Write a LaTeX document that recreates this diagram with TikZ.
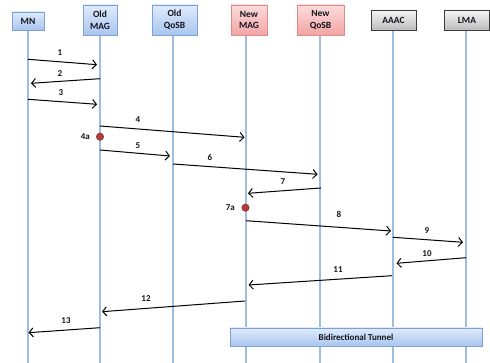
\documentclass[tikz,border=0pt]{standalone}
\usepackage{fontspec}
\setmainfont{Carlito}
\usetikzlibrary{arrows.meta,shadows}

\definecolor{lifeblue}{HTML}{9FBCE3}
\definecolor{bluetop}{HTML}{DFEBFB}
\definecolor{bluebot}{HTML}{A9C5EF}
\definecolor{blueedge}{HTML}{7EA1D3}
\definecolor{redtop}{HTML}{FCDCDC}
\definecolor{redbot}{HTML}{F2A4A4}
\definecolor{rededge}{HTML}{E08A8A}
\definecolor{graytop}{HTML}{F5F5F5}
\definecolor{graybot}{HTML}{BEBEBE}
\definecolor{grayedge}{HTML}{3C3C3C}
\definecolor{dotred}{HTML}{B03C3C}
\definecolor{dotedge}{HTML}{8A2A2A}
\definecolor{txt}{HTML}{14141E}

\tikzset{
  hdr/.style={rectangle, inner sep=0pt, align=center, text=txt,
    font=\fontsize{9.5}{11.5}\selectfont\bfseries,
    drop shadow={opacity=0.25, shadow xshift=0.8pt, shadow yshift=-0.8pt}},
  bluebox/.style={hdr, draw=blueedge, top color=bluetop, bottom color=bluebot},
  redbox/.style={hdr, draw=rededge, top color=redtop, bottom color=redbot},
  graybox/.style={hdr, draw=grayedge, top color=graytop, bottom color=graybot},
  lifeline/.style={draw=lifeblue, line width=1.4pt},
  msg/.style={draw=black, line width=1pt,
    -{Straight Barb[length=4pt,width=9pt,line width=1pt]}},
  lbl/.style={inner sep=0pt, text=txt, font=\fontsize{9}{10}\selectfont\bfseries},
  event/.style={circle, inner sep=0pt, minimum size=7.5pt, fill=dotred, draw=dotedge, line width=0.4pt}
}

\begin{document}
\begin{tikzpicture}[x=1pt,y=-1pt]
\useasboundingbox (0,0) rectangle (490,363);
\fill[white] (0,0) rectangle (490,363);

% lifelines, top and bottom ends
\foreach \name/\x/\top in {mn/28/30, omag/100/35, oqsb/173/35, nmag/246/35,
                           nqsb/320/35, aaac/393/30, lma/466/30} {
  \coordinate (\name-t) at (\x,\top);
  \coordinate (\name-b) at (\x,363);
  \draw[lifeline] (\name-t) -- (\name-b);
}

% participant headers
\node[bluebox, minimum width=32pt, minimum height=18pt] (mn)   at (28,21)    {MN};
\node[bluebox, minimum width=34pt, minimum height=30pt] (omag) at (100,20)   {Old\\MAG};
\node[bluebox, minimum width=45pt, minimum height=30pt] (oqsb) at (174.5,20) {Old\\QoSB};
\node[redbox,  minimum width=36pt, minimum height=30pt] (nmag) at (249,20)   {New\\MAG};
\node[redbox,  minimum width=47pt, minimum height=30pt] (nqsb) at (320.5,20) {New\\QoSB};
\node[graybox, minimum width=45pt, minimum height=20pt] (aaac) at (393.5,20) {AAAC};
\node[graybox, minimum width=45pt, minimum height=20pt] (lma)  at (467,20)   {LMA};

% message end points
\coordinate (m1a)  at (28,59.3);   \coordinate (m1b)  at (97,64.7);
\coordinate (m2a)  at (100,78.7);  \coordinate (m2b)  at (31,83.3);
\coordinate (m3a)  at (28,99.3);   \coordinate (m3b)  at (97,104.3);
\coordinate (m4a)  at (100,126);   \coordinate (m4b)  at (244.5,137.3);
\coordinate (m5a)  at (100,150);   \coordinate (m5b)  at (170,156);
\coordinate (m6a)  at (173,164);   \coordinate (m6b)  at (317.5,174.3);
\coordinate (m7a)  at (321,188);   \coordinate (m7b)  at (248,193.3);
\coordinate (m8a)  at (246,220.7); \coordinate (m8b)  at (391,231);
\coordinate (m9a)  at (393,237.3); \coordinate (m9b)  at (463,242.3);
\coordinate (m10a) at (466,257.7); \coordinate (m10b) at (396.5,263.3);
\coordinate (m11a) at (392,275.7); \coordinate (m11b) at (248.5,285);
\coordinate (m12a) at (245,301);   \coordinate (m12b) at (102,311.7);
\coordinate (m13a) at (100,327.7); \coordinate (m13b) at (28.5,332.7);

% messages
\foreach \i in {1,...,13} { \draw[msg] (m\i a) -- (m\i b); }

% message numbers
\node[lbl] (l1)  at (60,52.5)  {1};
\node[lbl] (l2)  at (60,74)    {2};
\node[lbl] (l3)  at (61,93)    {3};
\node[lbl] (l4)  at (138,120)  {4};
\node[lbl] (l5)  at (138,146)  {5};
\node[lbl] (l6)  at (210,157)  {6};
\node[lbl] (l7)  at (283,182)  {7};
\node[lbl] (l8)  at (339,214)  {8};
\node[lbl] (l9)  at (427,231)  {9};
\node[lbl] (l10) at (427,254)  {10};
\node[lbl] (l11) at (338,270)  {11};
\node[lbl] (l12) at (146,299)  {12};
\node[lbl] (l13) at (66,321)   {13};

% local events
\node[event] (e4a) at (100,136.7) {};
\node[lbl, anchor=east] (l4a) at (90,137) {4a};
\node[event] (e7a) at (245.5,207.7) {};
\node[lbl, anchor=east] (l7a) at (235,208) {7a};

% tunnel between new MAG and LMA
\node[bluebox, minimum width=252pt, minimum height=18pt,
      font=\fontsize{9}{10}\selectfont\bfseries] (tun) at (356,337) {Bidirectional Tunnel};
\end{tikzpicture}
\end{document}
